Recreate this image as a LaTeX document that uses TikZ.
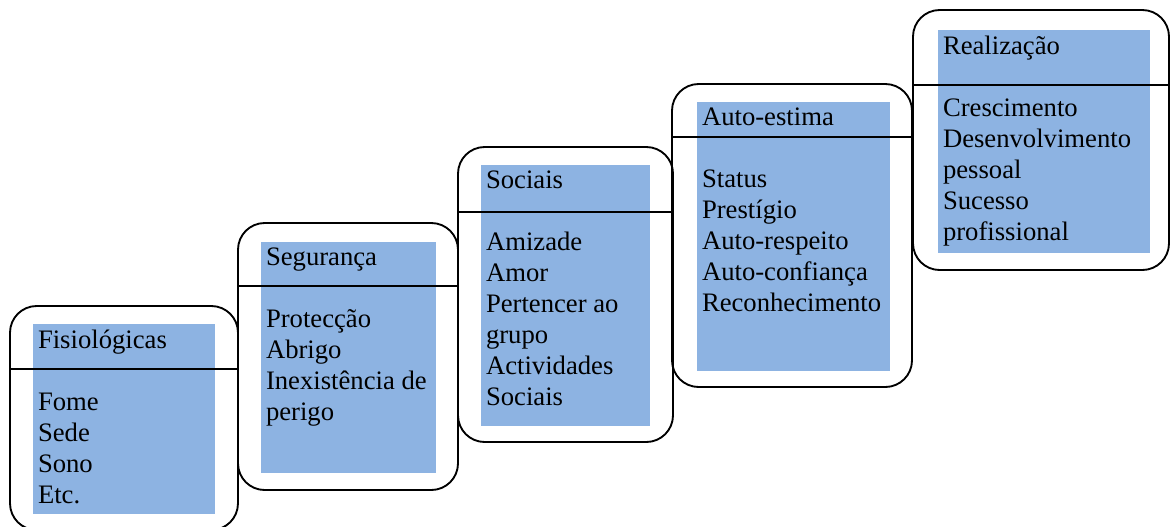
\documentclass[tikz,border=0pt]{standalone}
\usepackage{fontspec}
\setmainfont{Liberation Serif}
\usetikzlibrary{fit,positioning}
\definecolor{panelblue}{RGB}{141,179,226}

\begin{document}
\begin{tikzpicture}[x=0.75pt,y=-0.75pt,
        frame/.style={draw,line width=1.4pt,rounded corners=20pt,inner sep=0pt},
        panel/.style={fill=panelblue,inner sep=0pt},
        divider/.style={line width=1.1pt},
        itemtext/.style={align=left,inner sep=0pt,font=\fontsize{20}{23.25}\selectfont}]
        \useasboundingbox (0,0) rectangle (1170,526);
        % Fisiologicas
        \node[frame,fit={(10,306) (238,530)}] (fisio) {};
        \node[panel,fit={(33,324) (215,514)}] (fisio panel) {};
        \draw[divider] (fisio.west |- 0,369) -- (fisio.east |- 0,369);
        \node[itemtext,below right=4.3pt and 3.75pt of fisio panel.north west] (fisio text)
        {Fisiológicas\\[23.25pt]Fome\\Sede\\Sono\\Etc.};
        % Seguranca
        \node[frame,fit={(238,223) (458,490)}] (seg) {};
        \node[panel,fit={(261,242) (436,473)}] (seg panel) {};
        \draw[divider] (seg.west |- 0,286) -- (seg.east |- 0,286);
        \node[itemtext,below right=4.3pt and 3.75pt of seg panel.north west] (seg text)
        {Segurança\\[23.25pt]Protecção\\Abrigo\\Inexistência de\\perigo};
        % Sociais
        \node[frame,fit={(458,147) (673,442)}] (soc) {};
        \node[panel,fit={(481,165) (650,426)}] (soc panel) {};
        \draw[divider] (soc.west |- 0,212) -- (soc.east |- 0,212);
        \node[itemtext,below right=4.3pt and 3.75pt of soc panel.north west] (soc text)
        {Sociais\\[23.25pt]Amizade\\Amor\\Pertencer ao\\grupo\\Actividades\\Sociais};
        % Auto-estima
        \node[frame,fit={(672,84) (912,387)}] (est) {};
        \node[panel,fit={(697,102) (890,371)}] (est panel) {};
        \draw[divider] (est.west |- 0,137) -- (est.east |- 0,137);
        \node[itemtext,below right=4.3pt and 3.75pt of est panel.north west] (est text)
        {Auto-estima\\[23.25pt]Status\\Prestígio\\Auto-respeito\\Auto-confiança\\Reconhecimento};
        % Realizacao
        \node[frame,fit={(913,10) (1169,270)}] (real) {};
        \node[panel,fit={(938,30) (1150,253)}] (real panel) {};
        \draw[divider] (real.west |- 0,85) -- (real.east |- 0,85);
        \node[itemtext,below right=4.3pt and 3.75pt of real panel.north west] (real text)
        {Realização\\[23.25pt]Crescimento\\Desenvolvimento\\pessoal\\Sucesso\\profissional};
\end{tikzpicture}
\end{document}
